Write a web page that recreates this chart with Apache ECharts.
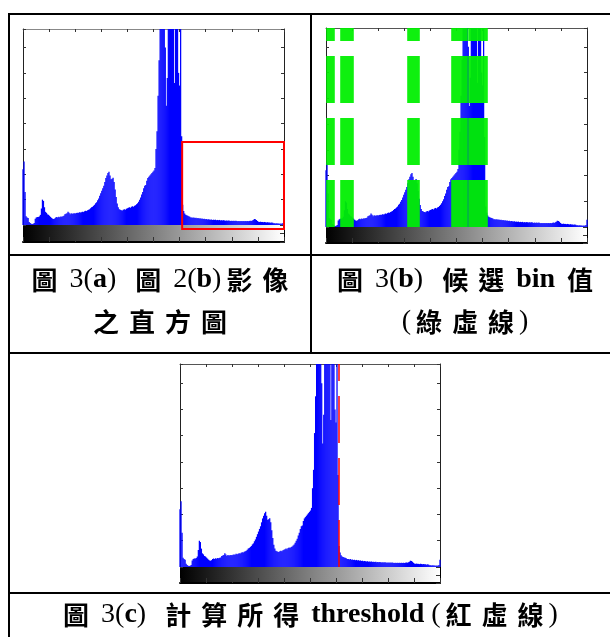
<!DOCTYPE html>
<html><head><meta charset="utf-8">
<script src="https://cdn.jsdelivr.net/npm/echarts@6/dist/echarts.min.js"></script>
<style>html,body{margin:0;padding:0;background:#fff}#c{width:610px;height:637px}</style>
</head><body><div id="c"></div>
<script>
// Histogram counts per gray level 0..255 (in units of one y tick interval)
const counts = [
 2.2,2.5,1.3,0.35,0.3,0.28,0.12,0.08,0.05,0.04,0.05,0.08,0.25,0.3,0.32,0.32,
 0.34,0.4,0.65,1.0,0.95,0.7,0.52,0.48,0.42,0.4,0.36,0.32,0.28,0.25,0.24,0.26,
 0.3,0.32,0.3,0.33,0.31,0.34,0.33,0.35,0.36,0.42,0.44,0.46,0.52,0.48,0.42,0.46,
 0.44,0.45,0.46,0.45,0.47,0.48,0.47,0.5,0.49,0.5,0.52,0.51,0.54,0.56,0.55,0.58,
 0.6,0.62,0.66,0.7,0.72,0.76,0.8,0.86,0.9,0.98,1.05,1.15,1.25,1.35,1.45,1.55,
 1.7,1.85,1.95,2.05,2.1,1.95,1.8,1.82,1.86,1.7,1.4,1.1,0.85,0.7,0.62,0.6,
 0.58,0.57,0.6,0.62,0.6,0.64,0.66,0.68,0.7,0.68,0.72,0.74,0.72,0.76,0.78,0.82,
 0.86,0.92,1.0,1.08,1.2,1.3,1.45,1.55,1.58,1.75,1.85,1.9,1.95,2.0,2.05,2.1,
 2.15,2.25,3.0,3.7,5.1,6.5,8.5,9.0,8.8,9.0,8.2,7.0,4.7,5.8,8.5,9.2,
 8.8,7.9,8.5,9.0,5.6,8.8,9.0,8.1,6.0,5.5,8.5,3.5,0.8,0.55,0.45,0.4,
 0.38,0.36,0.35,0.33,0.3,0.3,0.29,0.3,0.28,0.29,0.27,0.28,0.26,0.27,0.25,0.26,
 0.24,0.25,0.23,0.24,0.22,0.23,0.22,0.21,0.22,0.2,0.21,0.2,0.21,0.19,0.2,0.19,
 0.2,0.18,0.19,0.18,0.19,0.18,0.17,0.18,0.17,0.18,0.17,0.16,0.17,0.16,0.17,0.16,
 0.17,0.16,0.15,0.16,0.15,0.16,0.15,0.16,0.15,0.16,0.15,0.16,0.15,0.16,0.17,0.16,
 0.18,0.2,0.24,0.23,0.2,0.16,0.13,0.12,0.13,0.12,0.12,0.11,0.12,0.11,0.1,0.11,
 0.1,0.1,0.09,0.1,0.09,0.07,0.07,0.06,0.07,0.06,0.06,0.05,0.06,0.05,0.08,0.28
];
// Candidate bins (green dashed lines) in panel (b)
const candidateBins = [
 1,2,3,4,5,6,7,8,
 14,15,16,17,18,19,20,21,22,23,24,25,26,
 80,81,82,83,84,85,86,87,88,89,90,91,
 123,124,125,126,127,128,129,130,131,132,133,134,135,136,137,138,139,140,
 141,142,143,144,145,146,147,148,149,150,151,152,153,154,155,156,157
];
// Threshold (red dashed line) in panel (c)
const thresholdBin = [155.6];
// Highlight box in panel (a): [xStart, yTop, xEnd, yBottom]
const roiBox = [[155.5, 3.27, 255, -0.16]];
const xRange = [0, 255];
const xTickStep = 25.5;
const yRange = [0, 7.73];
const yTickStep = 1;

const captionA1 = [['cjk','圖'],['n',' 3('],['b','a'],['n',')  '],['cjk','圖'],['n',' 2('],['b','b'],['n',')'],['cjk','影像']];
const captionA2 = [['cjk','之直方圖']];
const captionB1 = [['cjk','圖'],['n',' 3('],['b','b'],['n',')  '],['cjk','候選'],['b',' bin '],['cjk','值']];
const captionB2 = [['n','('],['cjk','綠虛線'],['n',')']];
const captionC  = [['cjk','圖'],['n',' 3('],['b','c'],['n',')  '],['cjk','計算所得'],['b',' threshold '],['n','('],['cjk','紅虛線'],['n',')']];

const chart = echarts.init(document.getElementById('c'), null, {width:610, height:637});

const panels = [
  {hist:{left:23, top:29, width:261, height:196}, cbar:{left:23, top:225, width:261, height:17}, topColor:'#888'},
  {hist:{left:326, top:28, width:261, height:199}, cbar:{left:326, top:227, width:261, height:16}, topColor:'#555'},
  {hist:{left:180, top:364, width:260, height:203}, cbar:{left:180, top:567, width:260, height:16}, topColor:'#555'}
];
const grids = [], xAxes = [], yAxes = [];
panels.forEach((p) => {
  grids.push(Object.assign({show:false, outerBoundsMode:'none', containLabel:false}, p.hist));
  grids.push(Object.assign({show:true, borderWidth:0, outerBoundsMode:'none', containLabel:false,
    backgroundColor:{type:'linear', x:0, y:0, x2:1, y2:0, colorStops:[{offset:0,color:'#000'},{offset:1,color:'#fff'}]}}, p.cbar));
});
panels.forEach((p, i) => {
  const gh = i*2, gc = i*2+1;
  xAxes[gh] = {type:'value', gridIndex:gh, min:xRange[0], max:xRange[1], interval:xTickStep, position:'top',
    axisLine:{show:true, onZero:false, lineStyle:{color:p.topColor, width:1}},
    axisTick:{show:true, inside:true, length:3, lineStyle:{color:'#333'}},
    axisLabel:{show:false}, splitLine:{show:false}};
  xAxes[gc] = {type:'value', gridIndex:gc, min:xRange[0], max:xRange[1], interval:xTickStep, position:'bottom',
    axisLine:{show:true, onZero:false, lineStyle:{color:'#000', width:2}},
    axisTick:{show:true, inside:true, length:5, lineStyle:{color:'#333'}},
    axisLabel:{show:false}, splitLine:{show:false}};
  ['left','right'].forEach(pos => {
    yAxes.push({type:'value', gridIndex:gh, min:yRange[0], max:yRange[1], interval:yTickStep, position:pos,
      axisLine:{show:true, onZero:false, lineStyle:{color:'#222', width:1}},
      axisTick:{show:true, inside:true, length:3, lineStyle:{color:'#333'}},
      axisLabel:{show:false}, splitLine:{show:false}});
  });
  ['left','right'].forEach(pos => {
    yAxes.push({type:'value', gridIndex:gc, min:0, max:1, interval:0.5, position:pos,
      axisLine:{show:true, onZero:false, lineStyle:{color:'#000', width:1}},
      axisTick:{show:pos==='right', inside:true, length:4, lineStyle:{color:'#333'}},
      axisLabel:{show:false}, splitLine:{show:false}});
  });
});

const histData = counts.map((v, i) => [i, v]);
function histSeries(i, extra) {
  return Object.assign({type:'bar', xAxisIndex:i*2, yAxisIndex:i*4, data:histData, barWidth:1.25,
    clip:true, silent:true, itemStyle:{color:'#0000ff'}, z:2}, extra || {});
}
const series = [
  histSeries(0),
  {type:'custom', xAxisIndex:0, yAxisIndex:0, clip:false, silent:true, z:5, data:roiBox,
   encode:{x:[0,2], y:[1,3]},
   renderItem:(params, api) => {
     const p0 = api.coord([api.value(0), api.value(1)]);
     const p1 = api.coord([api.value(2), api.value(3)]);
     return {type:'rect', shape:{x:p0[0], y:p0[1], width:p1[0]-p0[0], height:p1[1]-p0[1]},
             style:{fill:'none', stroke:'#ff0000', lineWidth:2}};
   }},
  histSeries(1, {markLine:{silent:true, symbol:['none','none'], label:{show:false}, animation:false,
     lineStyle:{color:'#00f000', width:1.5, type:[47,15], opacity:1},
     emphasis:{disabled:true},
     data:candidateBins.map(b => ({xAxis:b}))}}),
  histSeries(2, {markLine:{silent:true, symbol:['none','none'], label:{show:false}, animation:false,
     lineStyle:{color:'#ff0000', width:1.5, type:[47,15], opacity:1},
     emphasis:{disabled:true},
     data:thresholdBin.map(b => ({xAxis:b}))}})
];

function cap(parts) {
  return parts.map(([k, t]) => k === 'cjk'
    ? Array.from(t).map(ch => '{cjk|' + ch + '}').join('')
    : '{' + k + '|' + t + '}').join('');
}
const rich = {
  cjk:{fontFamily:'Noto Sans CJK TC', fontSize:26, fontWeight:'bold', padding:[0,5,0,5], lineHeight:32, fill:'#000', color:'#000'},
  n:{fontFamily:'Liberation Serif', fontSize:28, fontWeight:'normal', lineHeight:32, fill:'#000', color:'#000'},
  b:{fontFamily:'Liberation Serif', fontSize:28, fontWeight:'bold', lineHeight:32, fill:'#000', color:'#000'}
};
function textEl(parts, x, y) {
  return {type:'text', x:x, y:y, silent:true, z:10,
    style:{text:cap(parts), rich:rich, fill:'#000', align:'center', verticalAlign:'middle',
           textAlign:'center', textVerticalAlign:'middle'}};
}
function lineEl(x1, y1, x2, y2) {
  return {type:'line', silent:true, z:10, shape:{x1, y1, x2, y2}, style:{stroke:'#000', lineWidth:2}};
}
const graphic = [
  lineEl(8, 14, 610, 14),
  lineEl(9, 13, 9, 637),
  lineEl(8, 255, 610, 255),
  lineEl(8, 353, 610, 353),
  lineEl(8, 593, 610, 593),
  lineEl(311, 14, 311, 353),
  textEl(captionA1, 160, 280),
  textEl(captionA2, 160, 322),
  textEl(captionB1, 465, 280),
  textEl(captionB2, 465, 322),
  textEl(captionC, 308, 615)
];

chart.setOption({
  animation:false,
  backgroundColor:'#fff',
  grid:grids, xAxis:xAxes, yAxis:yAxes, series:series, graphic:graphic
});
</script></body></html>
